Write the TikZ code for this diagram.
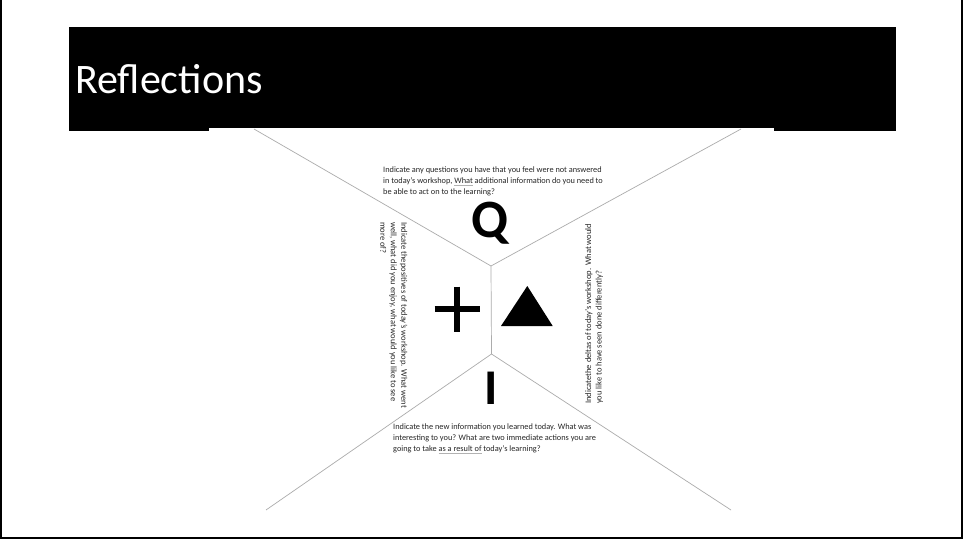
\documentclass[tikz,border=0pt]{standalone}
\usepackage{fontspec}
\setmainfont{Carlito}

\newcommand{\markedword}[1]{{\color{gray!60}\underline{\textcolor{black!85}{#1}}}}

\begin{document}
\begin{tikzpicture}[
  x=1pt, y=-1pt,
  prompt/.style={anchor=north west, align=left, inner sep=0pt, text=black!85, font=\fontsize{8.3}{11}\selectfont},
  sideprompt/.style={prompt, font=\fontsize{8.5}{10.5}\selectfont},
  letter/.style={anchor=base, inner sep=0pt, font=\fontsize{54}{54}\selectfont\bfseries},
  divider/.style={draw=gray!65, line width=0.7pt}
]
\useasboundingbox (0,0) rectangle (964,540);

% slide frame and title bar
\draw[line width=2pt] (1,0) -- (1,538) -- (962,538) -- (962,0);
\fill[black] (69,27) rectangle (896,131);
\node[anchor=base west, inner sep=0pt, text=white, font=\fontsize{42}{42}\selectfont] (title) at (75,94) {Reflections};

% pasted sheet
\fill[white] (209,128) rectangle (774,520);

\coordinate (ul) at (254,129);
\coordinate (ur) at (741,129);
\coordinate (jtop) at (491,266);
\coordinate (jbot) at (491.5,354);
\coordinate (ll) at (266,510);
\coordinate (lr) at (731,510);

\draw[divider] (ul) -- (jtop) -- (ur);
\draw[divider] (jtop) -- (jbot);
\draw[divider] (ll) -- (jbot) -- (lr);

\node[prompt] (qtext) at (383,167) {Indicate any questions you have that you feel were not answered\\
  in today’s workshop, \markedword{What} additional information do you need to\\
  be able to act on to the learning?};
\node[sideprompt, rotate=-90] (plustext) at (407.5,222) {Indicate thepositives of today’s workshop. What went\\
  well, what did you enjoy, what would you like to see\\
  more of?};
\node[sideprompt, rotate=90] (deltatext) at (585,404) {Indicatethe deltas of today’s workshop. What would\\
  you like to have seen done differently?};
\node[prompt] (itext) at (393,424) {Indicate the new information you learned today. What was\\
  interesting to you? What are two immediate actions you are\\
  going to take \markedword{as a result of} today’s learning?};

\node[letter] (q) at (490.5,238) {Q};
\node[letter, font=\fontsize{50}{50}\selectfont\bfseries] (i) at (491,404) {I};

% plus and delta
\coordinate (plus) at (457,309);
\draw[line width=5.5pt] ([xshift=-22.5pt]plus) -- ([xshift=22.5pt]plus);
\draw[line width=5.5pt] ([yshift=22.5pt]plus) -- ([yshift=-22.5pt]plus);
\fill (527.3,286) -- (501,326) -- (552.7,326) -- cycle;

\end{tikzpicture}
\end{document}
